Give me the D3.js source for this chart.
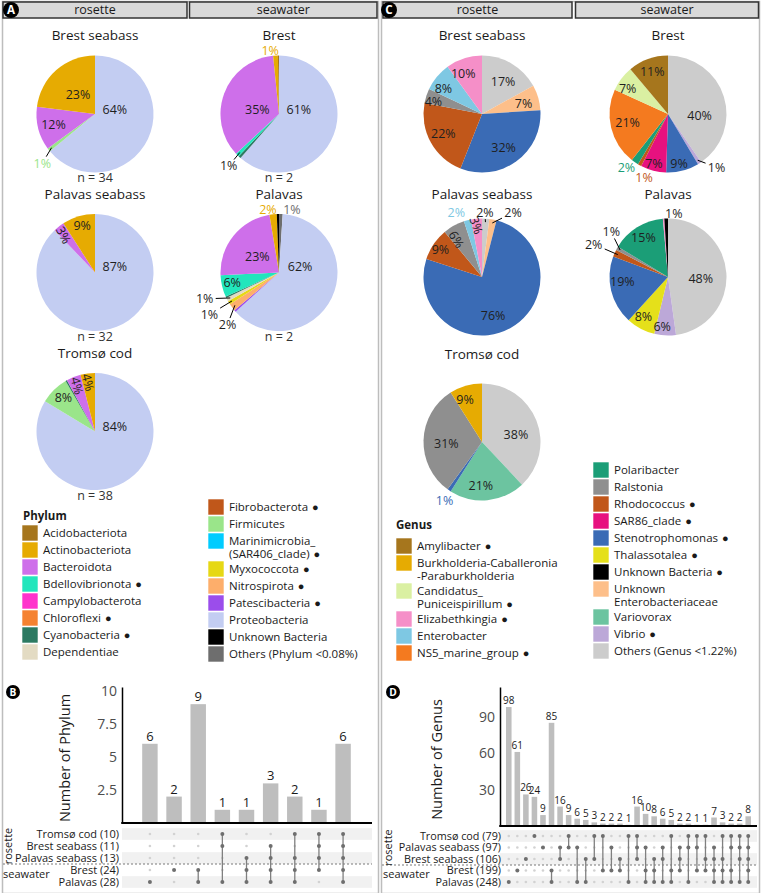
<!DOCTYPE html>
<html><head><meta charset="utf-8">
<script src="https://cdn.jsdelivr.net/npm/d3@7"></script>
<style>body{margin:0;background:#fff;} svg{display:block;font-family:"Open Sans",sans-serif;}</style>
</head><body><svg id="c" width="762" height="893"></svg>
<script>
// ================= DATA =================
// ---- Phylum (panel A) ----
const phylumLevels = ["Acidobacteriota","Actinobacteriota","Bacteroidota","Bdellovibrionota","Campylobacterota","Chloroflexi","Cyanobacteria","Dependentiae","Fibrobacterota","Firmicutes","Marinimicrobia","Myxococcota","Nitrospirota","Patescibacteria","Proteobacteria","Unknown Bacteria","Others"];
const phylumLegendText = ["Acidobacteriota","Actinobacteriota","Bacteroidota","Bdellovibrionota","Campylobacterota","Chloroflexi","Cyanobacteria","Dependentiae","Fibrobacterota","Firmicutes","Marinimicrobia_|(SAR406_clade)","Myxococcota","Nitrospirota","Patescibacteria","Proteobacteria","Unknown Bacteria","Others (Phylum <0.08%)"];
const phylumMarked = ["Bdellovibrionota","Chloroflexi","Cyanobacteria","Fibrobacterota","Marinimicrobia","Myxococcota","Nitrospirota","Patescibacteria"];
const phylumPieTitles = ["Brest seabass","Brest","Palavas seabass","Palavas","Tromsø cod"];
const phylumPieN = [34, 2, 32, 2, 38];
// slices clockwise from 12 o'clock, values in %
const phyBrestSeabass = [["Proteobacteria",64],["Firmicutes",1],["Bacteroidota",12],["Actinobacteriota",23]];
const phyBrest = [["Proteobacteria",61],["Cyanobacteria",0.7],["Bdellovibrionota",1],["Bacteroidota",35],["Actinobacteriota",1.3],["Acidobacteriota",0.3]];
const phyPalavasSeabass = [["Proteobacteria",87],["Bacteroidota",3],["Actinobacteriota",9]];
const phyPalavas = [["Others",1],["Proteobacteria",62],["Patescibacteria",0.5],["Nitrospirota",2],["Myxococcota",1],["Dependentiae",1],["Cyanobacteria",0.4],["Bdellovibrionota",6],["Bacteroidota",23],["Actinobacteriota",2],["Unknown Bacteria",0.6]];
const phyTromsoCod = [["Proteobacteria",84],["Firmicutes",8],["Cyanobacteria",0.4],["Bacteroidota",4],["Actinobacteriota",4]];

// ---- Genus (panel C) ----
const genusLevels = ["Amylibacter","Burkholderia","Candidatus_Puniceispirillum","Elizabethkingia","Enterobacter","NS5_marine_group","Polaribacter","Ralstonia","Rhodococcus","SAR86_clade","Stenotrophomonas","Thalassotalea","Unknown Bacteria","Unknown Enterobacteriaceae","Variovorax","Vibrio","Others"];
const genusLegendText = ["Amylibacter","Burkholderia-Caballeronia|-Paraburkholderia","Candidatus_|Puniceispirillum","Elizabethkingia","Enterobacter","NS5_marine_group","Polaribacter","Ralstonia","Rhodococcus","SAR86_clade","Stenotrophomonas","Thalassotalea","Unknown Bacteria","Unknown|Enterobacteriaceae","Variovorax","Vibrio","Others (Genus <1.22%)"];
const genusMarked = ["Amylibacter","Candidatus_Puniceispirillum","Elizabethkingia","NS5_marine_group","Rhodococcus","SAR86_clade","Stenotrophomonas","Thalassotalea","Unknown Bacteria","Vibrio"];
const genusPieTitles = ["Brest seabass","Brest","Palavas seabass","Palavas","Tromsø cod"];
const genBrestSeabass = [["Others",17],["Unknown Enterobacteriaceae",7],["Stenotrophomonas",32],["Rhodococcus",22],["Ralstonia",4],["Enterobacter",8],["Elizabethkingia",10]];
const genBrest = [["Others",40],["Vibrio",1],["Stenotrophomonas",9],["SAR86_clade",7],["Rhodococcus",1],["Polaribacter",2],["NS5_marine_group",21],["Candidatus_Puniceispirillum",7],["Amylibacter",11]];
const genPalavasSeabass = [["Others",2],["Unknown Enterobacteriaceae",2],["Stenotrophomonas",76],["Rhodococcus",9],["Ralstonia",6],["Enterobacter",2],["Elizabethkingia",3]];
const genPalavas = [["Others",48],["Vibrio",6],["Thalassotalea",8],["Stenotrophomonas",19],["Rhodococcus",2],["Ralstonia",1],["Polaribacter",15],["Elizabethkingia",0.4],["Unknown Bacteria",1]];
const genTromsoCod = [["Others",38],["Variovorax",21],["Stenotrophomonas",1],["Ralstonia",31],["Burkholderia",9]];

// ---- UpSet (panel B) ----
const phylumSetRows = ["Tromsø cod (10)","Brest seabass (11)","Palavas seabass (13)","Brest (24)","Palavas (28)"];
const phylumIntersections = [[4],[3],[3,4],[0,1,4],[2,3,4],[1,2,3,4],[0,2,3,4],[0,1,2,3],[0,1,2,3,4]];
const phylumCounts = [6,2,9,1,1,3,2,1,6];
const phylumTicks = [2.5,5,7.5,10];

// ---- UpSet (panel D) ----
const genusSetRows = ["Tromsø cod (79)","Palavas seabass (97)","Brest seabass (106)","Brest (199)","Palavas (248)"];
const genusIntersections = [[4],[3],[2],[0],[1],[3,4],[1,2],[0,1],[1,4],[2,4],[0,2],[0,3],[1,3],[2,3],[0,4],
  [0,1,2],[1,3,4],[2,3,4],[1,2,4],[0,3,4],[1,2,3],[0,1,4],[0,1,3],[0,2,3],
  [1,2,3,4],[0,2,3,4],[0,1,3,4],[0,1,2,4],[0,1,2,3,4]];
const genusCounts = [98,61,26,24,9,85,16,9,6,5,3,2,2,2,1,16,10,8,6,5,2,2,1,1,7,3,2,2,8];
const genusTicks = [30,60,90];

// ================= STYLE / LAYOUT =================
const phylumPalette = ["#A6761D","#E6AB02","#CE6FEA","#22E6BC","#FF33CC","#F58231","#2C7A62","#E3DBC3","#C0571A","#9AE58A","#00CCFF","#E6D814","#FDAE6B","#9B4DEB","#C3CDF2","#000000","#6E6E6E"];
const genusPalette = ["#A6761D","#E6AB02","#DAF0A2","#F58FC8","#7EC8E3","#F47A1F","#1B9E77","#8F8F8F","#C1571A","#E7117F","#3A6BB5","#E5E01A","#000000","#FDBF8A","#6CC4A0","#BCA8D8","#CCCCCC"];
// label layout per slice: [mode, x/r, y/r, rotation]
const lblA = [
  [["in",0.34,-0.08],["colline",-0.9,0.84],["in",-0.71,0.18],["in",-0.29,-0.33]],
  [["in",0.34,-0.08],null,["line",-0.86,0.89],["in",-0.37,-0.08],["col",-0.15,-1.08],null],
  [["in",0.34,-0.1],["in",-0.54,-0.64,62],["in",-0.22,-0.8]],
  [["col",0.22,-1.08],["in",0.36,-0.1],null,["line",-0.88,0.89],["line",-1.19,0.72],["line",-1.27,0.45],null,["in",-0.8,0.18],["in",-0.37,-0.27],["col",-0.19,-1.08],null],
  [["in",0.34,-0.09],["in",-0.54,-0.58],null,["in",-0.31,-0.78,75],["in",-0.12,-0.84,75]]
];
const lblC = [
  [["in",0.36,-0.55],["in",0.71,-0.18],["in",0.37,0.57],["in",-0.66,0.33],["in",-0.83,-0.21],["in",-0.66,-0.43],["in",-0.32,-0.69]],
  [["in",0.54,0.02],["line",0.83,0.91],["in",0.19,0.84],["in",-0.24,0.84],["col",-0.41,1.09],["col",-0.71,0.91],["in",-0.69,0.14],["in",-0.69,-0.43],["in",-0.27,-0.72]],
  [["line",0.05,-1.1],["line",0.53,-1.1],["in",0.19,0.66],["in",-0.71,-0.46],["in",-0.44,-0.64,60],["col",-0.44,-1.1],["in",-0.1,-0.88,72]],
  [["in",0.56,0.03],["in",-0.1,0.85],["in",-0.42,0.68],["in",-0.78,0.08],["line",-1.27,-0.56],["line",-0.97,-0.77],["in",-0.42,-0.68],null,["in",0.1,-1.09]],
  [["in",0.58,-0.12],["in",-0.02,0.74],["col",-0.64,1.01],["in",-0.61,0.03],["in",-0.29,-0.72]]
];

const svg = d3.select('#c');
const phyColor = d3.scaleOrdinal().domain(phylumLevels).range(phylumPalette);
const genColor = d3.scaleOrdinal().domain(genusLevels).range(genusPalette);
const TXT = '#1a1a1a';

// frames
svg.append('rect').attr('x',2.5).attr('y',1.5).attr('width',376).attr('height',892).attr('fill','none').attr('stroke','#BDBDBD').attr('stroke-width',1.5);
svg.append('rect').attr('x',381.5).attr('y',1.5).attr('width',378).attr('height',892).attr('fill','none').attr('stroke','#BDBDBD').attr('stroke-width',1.5);

function strip(x0,x1,label){
  svg.append('rect').attr('x',x0).attr('y',2).attr('width',x1-x0).attr('height',16).attr('fill','#D9D9D9').attr('stroke','#333').attr('stroke-width',1.5);
  svg.append('text').attr('x',(x0+x1)/2).attr('y',10).attr('dy','0.35em').attr('text-anchor','middle').attr('font-size',12.5).attr('fill',TXT).text(label);
}
strip(3,187,'rosette'); strip(189.5,377,'seawater');
strip(383,572,'rosette'); strip(575.5,758.5,'seawater');

function badge(x,y,r,letter){
  svg.append('circle').attr('cx',x).attr('cy',y).attr('r',r).attr('fill','#000');
  svg.append('text').attr('x',x).attr('y',y).attr('dy','0.36em').attr('text-anchor','middle').attr('font-size',r*1.45).attr('font-weight','bold').attr('fill','#fff').text(letter);
}

function drawPie(cx, cy, r, slices, labels, color){
  const g = svg.append('g');
  const arcs = d3.pie().sort(null).value(d=>d[1])(slices);
  const arcGen = d3.arc().innerRadius(0).outerRadius(r);
  g.selectAll('path').data(arcs).join('path')
    .attr('d', arcGen).attr('transform',`translate(${cx},${cy})`)
    .attr('fill', d=>color(d.data[0]));
  arcs.forEach((a,i)=>{
    const L = labels[i]; if(!L) return;
    const [mode, fx, fy, rot] = L;
    const lx = cx + fx*r, ly = cy + fy*r;
    const col = (mode==='col'||mode==='colline') ? color(a.data[0]) : '#1f1f1f';
    if(mode==='line'||mode==='colline'){
      const m = (a.startAngle+a.endAngle)/2;
      const px = cx + 0.94*r*Math.sin(m), py = cy - 0.94*r*Math.cos(m);
      const dx = px-lx, dy = py-ly, d = Math.hypot(dx,dy);
      const ux = dx/d, uy = dy/d;
      const t = Math.min(11/Math.max(Math.abs(ux),1e-6), 6.5/Math.max(Math.abs(uy),1e-6));
      if(t < d) g.append('line').attr('x1',lx+ux*t).attr('y1',ly+uy*t).attr('x2',px).attr('y2',py).attr('stroke','#000').attr('stroke-width',1);
    }
    const txt = g.append('text').attr('x',lx).attr('y',ly).attr('dy','0.35em').attr('text-anchor','middle')
      .attr('font-size',12.5).attr('fill',col).text(Math.round(a.data[1])+'%');
    if(rot) txt.attr('transform',`rotate(${rot},${lx},${ly})`);
  });
}

function pieTitle(x,y,t){ svg.append('text').attr('x',x).attr('y',y).attr('dy','0.35em').attr('text-anchor','middle').attr('font-size',13.5).attr('fill',TXT).text(t); }
function nLabel(x,y,n){ svg.append('text').attr('x',x).attr('y',y).attr('dy','0.35em').attr('text-anchor','middle').attr('font-size',12.5).attr('fill','#333').text('n = '+n); }

const R = 58.5;
// Panel A
const aX = [95, 279], aY = [114, 272.5, 431.5], aTitleY = [35,194,353], aNY = [178,337,496];
const phyPies = [phyBrestSeabass, phyBrest, phyPalavasSeabass, phyPalavas, phyTromsoCod];
phyPies.forEach((s,i)=>{
  const col = i%2, row = Math.floor(i/2);
  drawPie(aX[col], aY[row], R, s, lblA[i], phyColor);
  pieTitle(aX[col], aTitleY[row], phylumPieTitles[i]);
  nLabel(aX[col], aNY[row], phylumPieN[i]);
});
// Panel C
const cX = [482, 668], cY = [114, 277, 442], cTitleY = [35,194,354];
const genPies = [genBrestSeabass, genBrest, genPalavasSeabass, genPalavas, genTromsoCod];
genPies.forEach((s,i)=>{
  const col = i%2, row = Math.floor(i/2);
  drawPie(cX[col], cY[row], R, s, lblC[i], genColor);
  pieTitle(cX[col], cTitleY[row], genusPieTitles[i]);
});

badge(11,10,8,'A'); badge(389,10,8,'C');

// Legends
function legendColumn(x, y0, keys, texts, marked, color){
  let y = y0;
  keys.forEach((k,i)=>{
    const lines = texts[i].split('|');
    svg.append('rect').attr('x',x).attr('y',y-8).attr('width',16).attr('height',16).attr('fill',color(k)).attr('stroke','#fff').attr('stroke-width',0.6);
    lines.forEach((ln,j)=>{
      const t = svg.append('text').attr('x',x+21).attr('y',y+j*12.5).attr('dy','0.35em').attr('font-size',11.5).attr('fill',TXT).text(ln);
      if(j===lines.length-1 && marked.includes(k)) t.append('tspan').attr('font-size',11).attr('dx',4).text('●');
    });
    y += 17 + (lines.length-1)*11;
  });
}
svg.append('text').attr('x',23).attr('y',516).attr('dy','0.35em').attr('font-size',11.5).attr('font-weight','bold').attr('fill',TXT).text('Phylum');
legendColumn(22, 533, phylumLevels.slice(0,8), phylumLegendText.slice(0,8), phylumMarked, phyColor);
legendColumn(208, 507, phylumLevels.slice(8), phylumLegendText.slice(8), phylumMarked, phyColor);
svg.append('text').attr('x',396).attr('y',525).attr('dy','0.35em').attr('font-size',11.5).attr('font-weight','bold').attr('fill',TXT).text('Genus');
legendColumn(396, 546, genusLevels.slice(0,6), genusLegendText.slice(0,6), genusMarked, genColor);
legendColumn(593, 470, genusLevels.slice(6), genusLegendText.slice(6), genusMarked, genColor);

// UpSet plots
function upset(cfg, rows, inters, counts, ticks, title){
  const g = svg.append('g');
  const x = d3.scaleBand().domain(d3.range(counts.length)).range(cfg.band).padding(cfg.pad);
  const y = d3.scaleLinear().domain([0, cfg.ymax]).range([cfg.base, cfg.top]);
  const bw = x.bandwidth();
  g.selectAll('rect.bar').data(counts).join('rect').attr('class','bar')
    .attr('x',(d,i)=>x(i)).attr('y',d=>y(d)).attr('width',bw).attr('height',d=>cfg.base-y(d)).attr('fill','#BEBEBE');
  g.selectAll('text.bl').data(counts).join('text').attr('class','bl')
    .attr('x',(d,i)=>x(i)+bw/2).attr('y',d=>y(d)-3).attr('text-anchor','middle').attr('font-size',cfg.labSize).attr('fill',TXT).text(d=>d);
  const ax = g.append('g').attr('transform',`translate(${cfg.axisX},0)`)
    .call(d3.axisLeft(y).tickValues(ticks).tickSize(0).tickSizeOuter(0).tickPadding(5).tickFormat(d3.format('~g')));
  ax.select('.domain').attr('stroke','#000').attr('stroke-width',1.5);
  ax.selectAll('text').attr('font-size',cfg.tickSize).attr('fill','#4D4D4D').attr('font-family','"Open Sans",sans-serif');
  g.append('line').attr('x1',cfg.axisX-0.75).attr('x2',cfg.right).attr('y1',cfg.base).attr('y2',cfg.base).attr('stroke','#000').attr('stroke-width',2);
  g.append('text').attr('transform',`translate(${cfg.titleX},${(cfg.base+cfg.top)/2+3}) rotate(-90)`).attr('text-anchor','middle').attr('dy','0.35em')
    .attr('font-size',14.5).attr('fill',TXT).text(title);
  // matrix
  const ry = cfg.rowsY;
  ry.forEach((yy,i)=>{ if(i%2===0) g.append('rect').attr('x',cfg.axisX).attr('y',yy-5.8).attr('width',cfg.right-cfg.axisX).attr('height',11.6).attr('fill','#F1F1F1'); });
  g.append('line').attr('x1',cfg.dashX0).attr('x2',cfg.right).attr('y1',cfg.dashY).attr('y2',cfg.dashY).attr('stroke','#555').attr('stroke-width',0.8).attr('stroke-dasharray','2,2');
  rows.forEach((r,i)=>{
    g.append('text').attr('x',cfg.labelX).attr('y',ry[i]).attr('dy','0.35em').attr('text-anchor','end').attr('font-size',cfg.rowSize).attr('fill',TXT).text(r);
  });
  inters.forEach((set,i)=>{
    const cx = x(i)+bw/2;
    ry.forEach((yy,j)=>{ if(!set.includes(j)) g.append('circle').attr('cx',cx).attr('cy',yy).attr('r',1.3).attr('fill','#D2D2D2'); });
    if(set.length>1) g.append('line').attr('x1',cx).attr('x2',cx).attr('y1',ry[d3.min(set)]).attr('y2',ry[d3.max(set)]).attr('stroke','#808080').attr('stroke-width',1.3);
    set.forEach(j=> g.append('circle').attr('cx',cx).attr('cy',ry[j]).attr('r',2).attr('fill','#6E6E6E'));
  });
  g.append('text').attr('transform',`translate(${cfg.grpX},${(ry[0]+ry[2])/2}) rotate(-90)`).attr('text-anchor','middle').attr('dy','0.35em').attr('font-size',11).attr('fill',TXT).text('rosette');
  g.append('text').attr('x',cfg.grpX-5).attr('y',(ry[3]+ry[4])/2-2).attr('dy','0.35em').attr('font-size',11).attr('fill',TXT).text('seawater');
}

upset({band:[133.5,359.5], pad:0.36, ymax:10.3, base:823, top:687, axisX:122, right:372, titleX:65,
       rowsY:[834,846,858,870,882], dashY:864, dashX0:3, labelX:119, labSize:13, tickSize:14, rowSize:11, grpX:8},
      phylumSetRows, phylumIntersections, phylumCounts, phylumTicks, 'Number of Phylum');
upset({band:[503,754], pad:0.35, ymax:114.5, base:826, top:687, axisX:500, right:757, titleX:437,
       rowsY:[836,847.5,859,870.5,882], dashY:865, dashX0:382, labelX:501, labSize:10, tickSize:14, rowSize:10.8, grpX:388},
      genusSetRows, genusIntersections, genusCounts, genusTicks, 'Number of Genus');

badge(13,692,7,'B'); badge(393,692,7,'D');
</script></body></html>
